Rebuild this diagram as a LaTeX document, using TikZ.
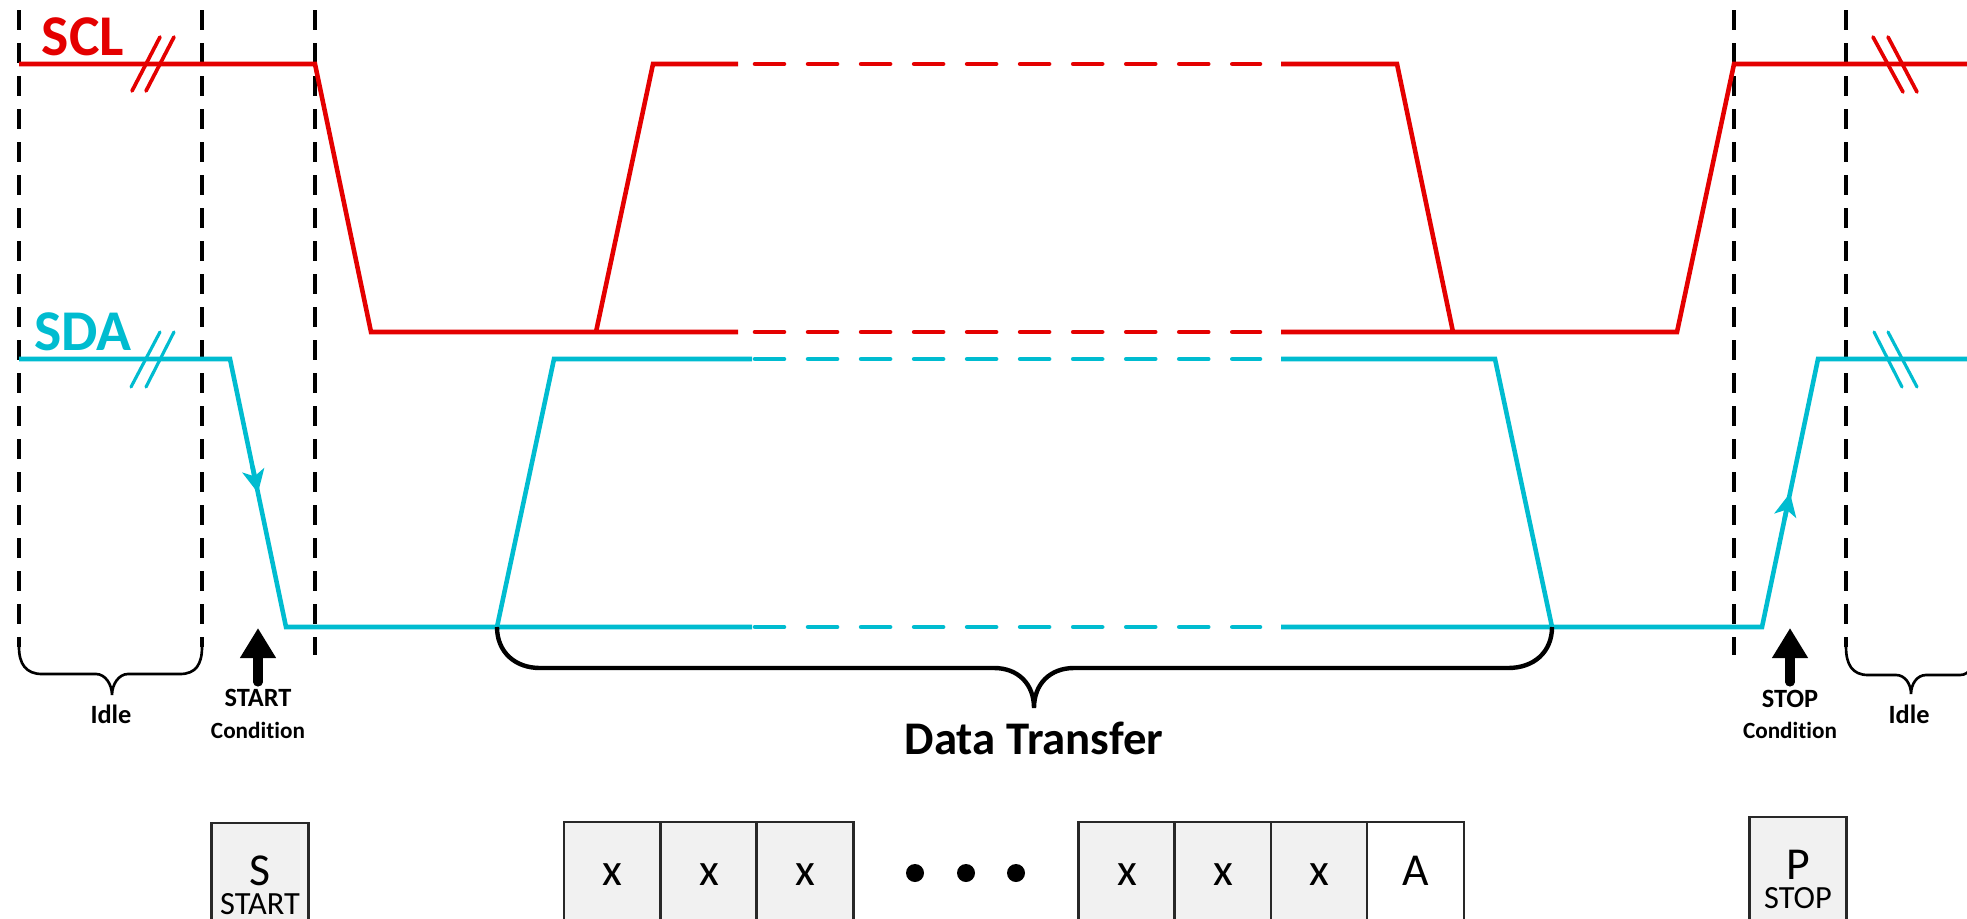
\documentclass[tikz,border=0pt]{standalone}
\usepackage{fontspec}
\setmainfont{Carlito}[Ligatures=NoCommon]
\usetikzlibrary{arrows.meta,calc}
\definecolor{sclred}{RGB}{228,0,0}
\definecolor{sdacyan}{RGB}{0,188,208}
\definecolor{cellgray}{RGB}{241,241,241}
\definecolor{cellline}{RGB}{40,40,40}
\newcommand{\sizept}[1]{\fontsize{#1}{#1}\selectfont}
\begin{document}
\begin{tikzpicture}[x=0.01cm,y=-0.01cm,
  sclline/.style={draw=sclred,line width=1.3pt},
  sdaline/.style={draw=sdacyan,line width=1.3pt},
  gapdash/.style={dash pattern=on 0.29cm off 0.24cm,line cap=round},
  guide/.style={draw=black,line width=1.0pt,dash pattern=on 0.2cm off 0.13cm},
  breakmark/.style={line width=1.05pt,line cap=round},
  brace/.style={draw=black,line width=0.75pt},
  bigbrace/.style={draw=black,line width=1.25pt},
  condarrow/.style={draw=black,line width=2.6pt,line cap=round,-{Triangle[length=0.30cm,width=0.34cm]}},
  edgearrow/.style={-{Stealth[length=0.23cm,width=0.22cm,inset=0.06cm]}},
  siglabel/.style={anchor=base,inner sep=0pt,font=\sizept{16.4}\bfseries},
  smalllabel/.style={anchor=base,inner sep=0pt,font=\sizept{7.5}\bfseries},
  condlabel/.style={anchor=base,inner sep=0pt,font=\sizept{6.6}\bfseries},
  cell/.style={draw=cellline,line width=0.65pt,fill=cellgray,minimum width=0.97cm,minimum height=1.10cm,inner sep=0pt},
  celltext/.style={anchor=base,inner sep=0pt,font=\sizept{13}},
  symtext/.style={anchor=north,inner sep=0pt,align=center,font=\sizept{9.2}},
  dotmark/.style={circle,fill=black,minimum size=0.18cm,inner sep=0pt}
]
\useasboundingbox (0,0) rectangle (1967,918);
\clip (0,0) rectangle (1967,918);

% ---- vertical guide lines ----
\draw[guide] (19,10) -- (19,647);
\draw[guide] (202,10) -- (202,647);
\draw[guide] (315,10) -- (315,655);
\draw[guide] (1734,10) -- (1734,655);
\draw[guide] (1846,10) -- (1846,647);

% ---- SCL waveform ----
\coordinate (sclA) at (19,64);
\coordinate (sclB) at (315,64);
\coordinate (sclC) at (371,332);
\coordinate (sclR1) at (596,332);
\coordinate (sclR2) at (653,64);
\coordinate (sclF1) at (1397,64);
\coordinate (sclF2) at (1453,332);
\coordinate (sclS1) at (1677,332);
\coordinate (sclS2) at (1734,64);
\draw[sclline] (sclA) -- (sclB) -- (sclC) -- (738,332);
\draw[sclline] (sclR1) -- (sclR2) -- (738,64);
\draw[sclline,gapdash] (755,64) -- (1260,64);
\draw[sclline,gapdash] (755,332) -- (1260,332);
\draw[sclline] (1281,64) -- (sclF1) -- (sclF2);
\draw[sclline] (1281,332) -- (sclS1) -- (sclS2) -- (1990,64);

% ---- SDA waveform ----
\coordinate (sdaA) at (19,359);
\coordinate (sdaB) at (230,359);
\coordinate (sdaC) at (286,627);
\coordinate (sdaR1) at (497,627);
\coordinate (sdaR2) at (554,359);
\coordinate (sdaF1) at (1495,359);
\coordinate (sdaF2) at (1552,627);
\coordinate (sdaS1) at (1762,627);
\coordinate (sdaS2) at (1818,359);
\draw[sdaline] (sdaA) -- (sdaB) -- (sdaC) -- (752,627);
\draw[sdaline] (sdaR1) -- (sdaR2) -- (752,359);
\draw[sdaline,gapdash] (755,359) -- (1260,359);
\draw[sdaline,gapdash] (755,627) -- (1260,627);
\draw[sdaline] (1281,359) -- (sdaF1) -- (sdaF2);
\draw[sdaline] (1281,627) -- (sdaS1) -- (sdaS2) -- (1990,359);

% direction marks on the START / STOP edges
\draw[sdaline,edgearrow] ($(sdaB)!0.40!(sdaC)$) -- ($(sdaB)!0.50!(sdaC)$);
\draw[sdaline,edgearrow] ($(sdaS1)!0.40!(sdaS2)$) -- ($(sdaS1)!0.50!(sdaS2)$);

% ---- break marks ----
\draw[sclline,breakmark] (132,91) -- (160,37) (146,91) -- (174,37);
\draw[sdaline,breakmark,line width=0.9pt] (131,387) -- (160,332) (146,387) -- (174,332);
\draw[sclline,breakmark] (1873,37) -- (1903,92) (1888,37) -- (1917,92);
\draw[sdaline,breakmark,line width=0.9pt] (1874,332) -- (1902,387) (1888,332) -- (1917,387);

% ---- signal names ----
\node[siglabel,text=sclred] (sclname) at (83,55) {SCL};
\node[siglabel,text=sdacyan] (sdaname) at (83,350) {SDA};

% ---- braces ----
\draw[brace] (19,647) .. controls (19,664) and (26,674) .. (42,674) -- (96,674)
  .. controls (105,674) and (112,684) .. (112,695)
  .. controls (112,684) and (119,674) .. (128,674) -- (180,674)
  .. controls (196,674) and (202,664) .. (202,647);
\draw[brace] (1846,647) .. controls (1846,664) and (1852,675) .. (1868,675) -- (1896,675)
  .. controls (1905,675) and (1911,684) .. (1911,694)
  .. controls (1911,684) and (1917,675) .. (1926,675) -- (1960,675)
  .. controls (1970,675) and (1976,664) .. (1976,647);
\draw[bigbrace] (sdaR1) .. controls (497,652) and (515,668) .. (540,668) -- (994,668)
  .. controls (1018,668) and (1034,684) .. (1034,708)
  .. controls (1034,684) and (1050,668) .. (1074,668) -- (1508,668)
  .. controls (1534,668) and (1552,652) .. (sdaF2);

\node[smalllabel] (idleL) at (111,723) {Idle};
\node[smalllabel] (idleR) at (1909,723) {Idle};
\node[anchor=base,inner sep=0pt,font=\sizept{13.3}\bfseries] (dtlabel) at (1034,754) {Data Transfer};

% ---- START / STOP markers ----
\coordinate (startTail) at (258,682);
\coordinate (startTip) at (258,628);
\coordinate (stopTail) at (1790,682);
\coordinate (stopTip) at (1790,628);
\draw[condarrow] (startTail) -- (startTip);
\draw[condarrow] (stopTail) -- (stopTip);
\node[smalllabel] (startlbl) at (258,706) {START};
\node[condlabel] (startcond) at (258,738) {Condition};
\node[smalllabel] (stoplbl) at (1790,707) {STOP};
\node[condlabel] (stopcond) at (1790,738) {Condition};

% ---- frame symbols ----
\node[cell] (sbox) at (260,878) {};
\node[symtext] (stext) at (260,855) {{\sizept{13}S}\\[-0.95pt]START};

\node[cell] (c1) at (612.5,877) {};
\node[cell] (c2) at (709,877) {};
\node[cell] (c3) at (805,877) {};
\node[celltext] (t1) at (612.5,885) {x};
\node[celltext] (t2) at (709,885) {x};
\node[celltext] (t3) at (805,885) {x};

\node[dotmark] (d1) at (915,873) {};
\node[dotmark] (d2) at (966,873) {};
\node[dotmark] (d3) at (1016,873) {};

\node[cell] (c4) at (1127,877) {};
\node[cell] (c5) at (1223,877) {};
\node[cell] (c6) at (1319.5,877) {};
\node[cell,fill=white] (c7) at (1415.5,877) {};
\node[celltext] (t4) at (1127,885) {x};
\node[celltext] (t5) at (1223,885) {x};
\node[celltext] (t6) at (1319.5,885) {x};
\node[celltext] (t7) at (1415.5,885) {A};

\node[cell] (pbox) at (1798,872) {};
\node[symtext] (ptext) at (1798,849) {{\sizept{13}P}\\[-0.95pt]STOP};
\end{tikzpicture}
\end{document}
